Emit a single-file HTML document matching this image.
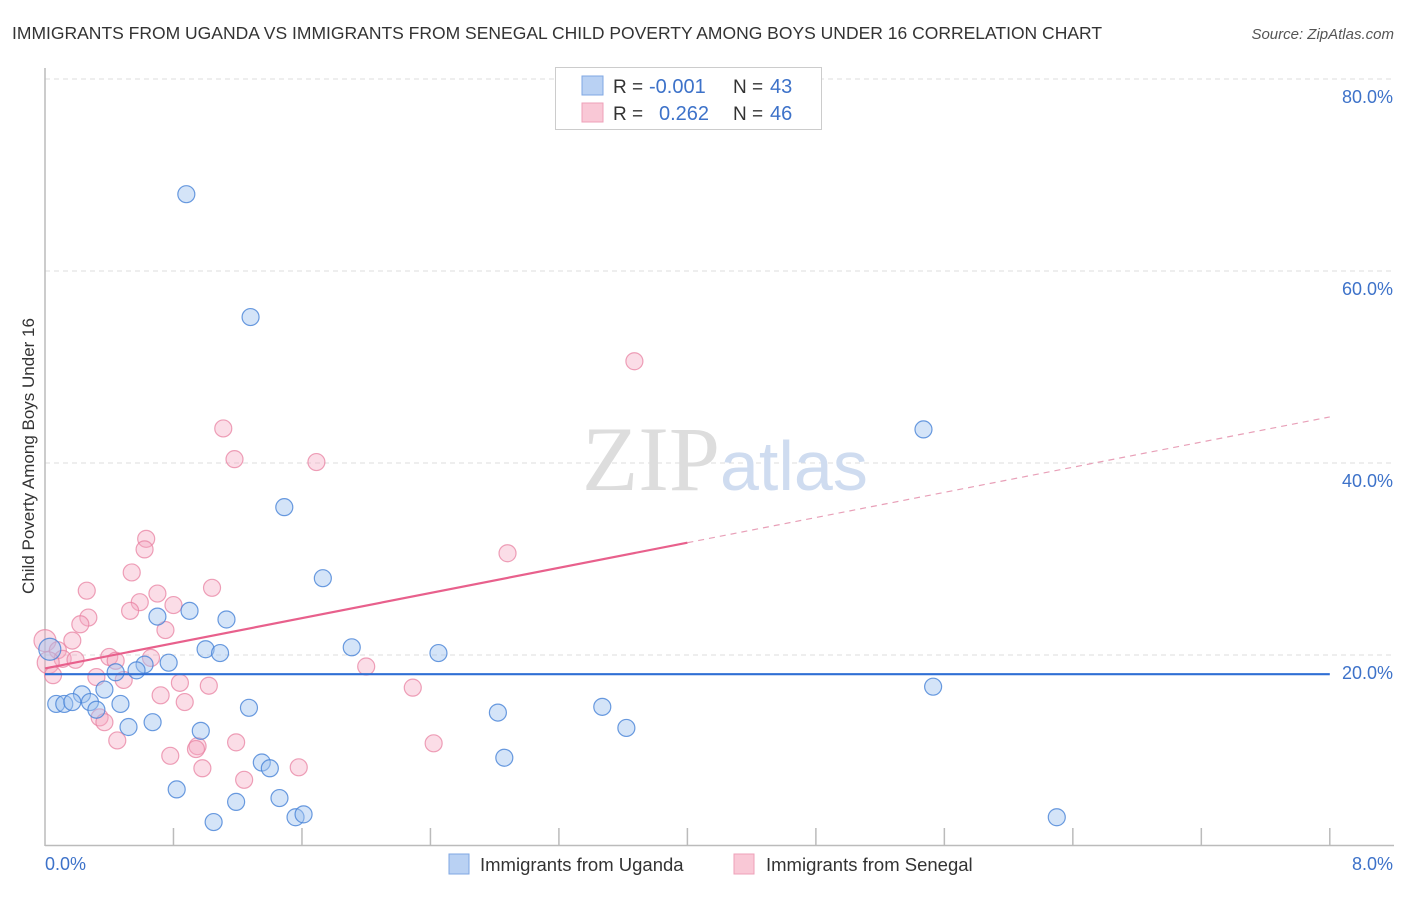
<!DOCTYPE html>
<html><head><meta charset="utf-8"><style>
body{margin:0;background:#fff;font-family:"Liberation Sans",sans-serif;}
svg text{font-family:"Liberation Sans",sans-serif;}
</style></head><body>
<svg id="c" width="1406" height="892" viewBox="0 0 1406 892">
<text x="12" y="39" font-size="17.5" fill="#333">IMMIGRANTS FROM UGANDA VS IMMIGRANTS FROM SENEGAL CHILD POVERTY AMONG BOYS UNDER 16 CORRELATION CHART</text>
<text x="1394" y="39" font-size="15" fill="#555" font-style="italic" text-anchor="end">Source: ZipAtlas.com</text>
<text x="0" y="0" transform="translate(34,456) rotate(-90)" font-size="17" fill="#333" text-anchor="middle">Child Poverty Among Boys Under 16</text>
<g id="grid"></g>
<g id="yt"></g>
<g id="xt"></g>
<line x1="45" y1="68" x2="45" y2="846" stroke="#bbb" stroke-width="1.5"/>
<line x1="45" y1="845.5" x2="1394" y2="845.5" stroke="#bbb" stroke-width="1.5"/>
<text x="720" y="490" font-size="92" fill="#ddd" text-anchor="end" font-family="Liberation Serif" style="font-family:'Liberation Serif',serif">ZIP</text>
<text x="720" y="490" font-size="70" fill="#cfdcf0">atlas</text>
<g id="pts"></g>
<g id="lines"></g>
<text x="45" y="870" font-size="18" fill="#3d72c9">0.0%</text>
<text x="1393" y="870" font-size="18" fill="#3d72c9" text-anchor="end">8.0%</text>
<g>
<rect x="555.5" y="67.5" width="266" height="62" fill="#fff" stroke="#ccc"/>
<rect x="582" y="76" width="21" height="19" fill="#b9d1f3" stroke="#7fa7e3"/>
<rect x="582" y="103" width="21" height="19" fill="#f9c8d6" stroke="#eea0b8"/>
<text x="613" y="93" font-size="19" fill="#333">R =</text><text x="649" y="93" font-size="20" fill="#3d72c9">-0.001</text>
<text x="733" y="93" font-size="19" fill="#333">N =</text><text x="770" y="93" font-size="20" fill="#3d72c9">43</text>
<text x="613" y="120" font-size="19" fill="#333">R =</text><text x="659" y="120" font-size="20" fill="#3d72c9">0.262</text>
<text x="733" y="120" font-size="19" fill="#333">N =</text><text x="770" y="120" font-size="20" fill="#3d72c9">46</text>
</g>
<g>
<rect x="449" y="854" width="20" height="20" fill="#b9d1f3" stroke="#7fa7e3"/>
<text x="480" y="871" font-size="18.5" fill="#333">Immigrants from Uganda</text></g>
<g>
<rect x="734" y="854" width="20" height="20" fill="#f9c8d6" stroke="#eea0b8"/>
<text x="766" y="871" font-size="18.5" fill="#333">Immigrants from Senegal</text></g>
</svg>
<script>
const yTicks=[20,40,60,80];
const yTickLabels=["20.0%","40.0%","60.0%","80.0%"];
const xTicks=[0.8,1.6,2.4,3.2,4.0,4.8,5.6,6.4,7.2,8.0];
const ugandaX=[0.88,1.28,5.47,1.49,1.73,0.90,0.70,1.13,1.91,2.45,1.00,1.09,0.77,0.62,0.57,0.44,5.53,0.37,0.23,0.07,0.12,0.17,0.28,0.47,0.32,1.27,2.82,3.47,0.67,0.52,3.62,0.97,2.86,1.35,1.40,0.82,1.19,1.46,1.05,1.56,1.61,6.30,0.03];
const ugandaY=[68.0,55.2,43.5,35.4,28.0,24.6,24.0,23.7,20.8,20.2,20.6,20.2,19.2,19.0,18.4,18.2,16.7,16.4,15.9,14.9,14.9,15.1,15.1,14.9,14.3,14.5,14.0,14.6,13.0,12.5,12.4,12.1,9.3,8.8,8.2,6.0,4.7,5.1,2.6,3.1,3.4,3.1,20.6];
const senegalX=[3.67,1.11,1.18,1.69,0.63,0.62,2.88,0.54,0.26,1.04,0.70,0.80,0.59,0.27,0.53,0.22,0.75,0.17,0.00,0.08,0.11,0.19,0.40,0.66,0.02,0.44,2.00,0.05,0.32,0.49,0.84,1.02,2.29,0.72,0.87,0.34,0.37,0.45,1.19,2.42,0.95,0.94,0.78,0.98,1.24,1.58];
const senegalY=[50.6,43.6,40.4,40.1,32.1,31.0,30.6,28.6,26.7,27.0,26.4,25.2,25.5,23.9,24.6,23.2,22.6,21.5,21.5,20.5,19.6,19.5,19.8,19.7,19.2,19.4,18.8,17.9,17.7,17.4,17.1,16.8,16.6,15.8,15.1,13.5,13.0,11.1,10.9,10.8,10.5,10.2,9.5,8.2,7.0,8.3];
const ugandaTrend=[18.0,18.0];
const senegalTrend=[18.6,31.7,44.8];
const NS="http://www.w3.org/2000/svg";
const X=v=>45+v*160.6, Y=v=>847-v*9.6;
function mk(t,a,p){const e=document.createElementNS(NS,t);for(const k in a)e.setAttribute(k,a[k]);document.getElementById(p).appendChild(e);return e;}
yTicks.forEach((t,i)=>{
 const l=mk('line',{x1:45,x2:1394,y1:Y(t),y2:Y(t),stroke:'#ddd','stroke-dasharray':'5,4'},'grid');
 
 
 const tx=mk('text',{x:1393,y:Y(t)+24,'font-size':18,fill:'#3d72c9','text-anchor':'end'},'yt');
 tx.textContent=yTickLabels[i];
 
 
});
xTicks.forEach(t=>{
 const l=mk('line',{x1:X(t),x2:X(t),y1:828,y2:846,stroke:'#bbb','stroke-width':1.5},'xt');
 
 
});
function pts(xs,ys,fill,stroke,name){xs.forEach((x,i)=>{
 const r=(x<0.05)?11:8.5;
 const c=mk('circle',{cx:X(x),cy:Y(ys[i]),r:r,fill:fill,stroke:stroke,'stroke-width':1.2},'pts');
 
 
});}
pts(senegalX,senegalY,'rgba(246,170,195,0.4)','rgba(232,130,162,0.75)','senegal-point');
pts(ugandaX,ugandaY,'rgba(160,195,240,0.45)','rgba(70,130,215,0.8)','uganda-point');
let l=mk('line',{x1:X(0),x2:X(8),y1:Y(ugandaTrend[0]),y2:Y(ugandaTrend[1]),stroke:'#2f6fd4','stroke-width':2.2},'lines');


l=mk('line',{x1:X(0),x2:X(4),y1:Y(senegalTrend[0]),y2:Y(senegalTrend[1]),stroke:'#e8608c','stroke-width':2.2},'lines');


l=mk('line',{x1:X(4),x2:X(8),y1:Y(senegalTrend[1]),y2:Y(senegalTrend[2]),stroke:'#e8a0b8','stroke-width':1.2,'stroke-dasharray':'6,5'},'lines');


</script>
</body></html>
